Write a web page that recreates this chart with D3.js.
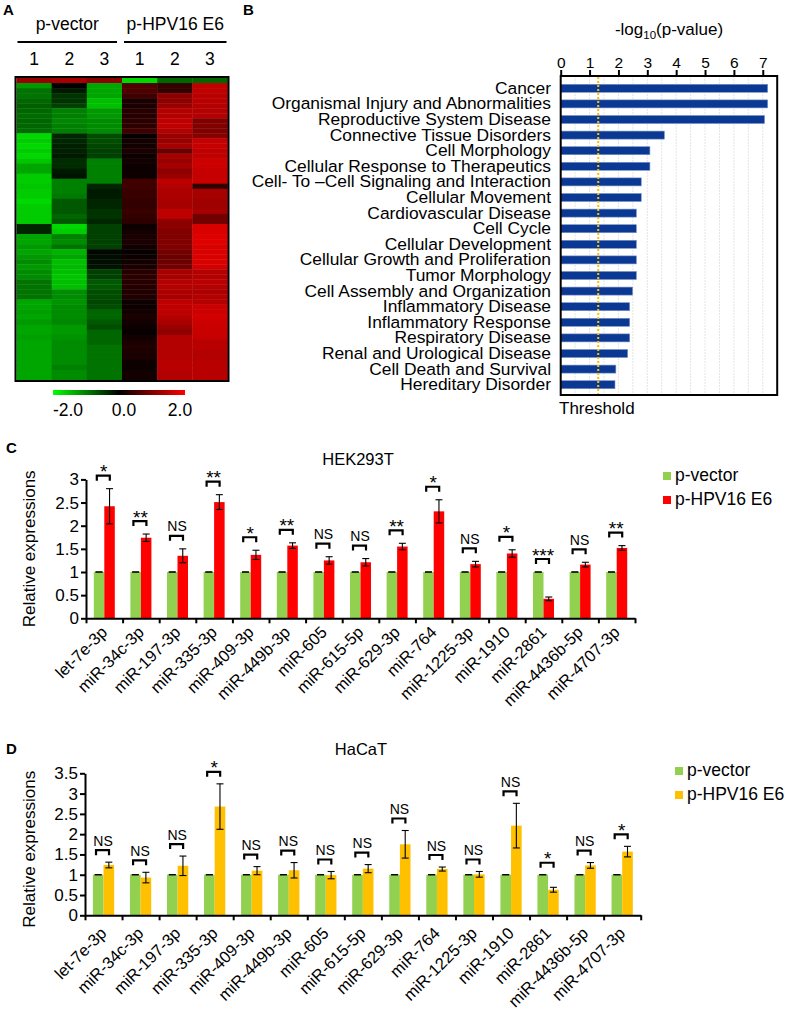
<!DOCTYPE html>
<html><head><meta charset="utf-8">
<script src="https://cdn.jsdelivr.net/npm/d3@7"></script>
<style>body{margin:0;background:#fff} svg{display:block} text{font-family:"Liberation Sans",Arial,sans-serif;fill:#000}</style>
</head><body><svg id="fig" width="787" height="1018"></svg>
<script>
// ---------------- DATA ----------------
// Panel A heatmap (rows top->bottom)
const heatGroups = ["p-vector", "p-HPV16 E6"];
const heatColLabels = ["1", "2", "3", "1", "2", "3"];
const heatVector1 = [1.2,-1.2,-0.9,-0.9,-0.8,-0.75,-0.8,-0.85,-0.8,-0.8,-0.85,-1.7,-1.6,-1.7,-1.6,-1.7,-1.55,-1.3,-1.3,-1.6,-1.6,-1.55,-1.6,-1.6,-1.7,-1.6,-1.6,-1.6,-1.6,-0.3,-0.3,-1.3,-1.3,-1.2,-1.3,-1.2,-1.1,-1.2,-1.1,-1.1,-0.9,-0.9,-0.9,-0.9,-1.3,-1.3,-1.25,-1.3,-1.2,-1.3,-1.3,-1.25,-1.3,-1.3,-1.3,-1.3,-1.3,-1.3,-1.3,-1.3];
const heatVector2 = [1.3,0.0,-0.2,-0.4,-0.4,-0.5,-1.0,-1.0,-1.05,-1.0,-1.0,-0.3,-0.3,-0.25,-0.25,-0.2,-0.35,-0.35,-0.2,-0.15,-1.0,-1.0,-1.0,-0.95,-0.7,-0.7,-0.7,-0.8,-0.7,-1.7,-1.6,-1.0,-1.1,-0.9,-1.4,-1.3,-1.5,-1.45,-1.5,-1.55,-1.5,-1.5,-1.1,-1.1,-1.15,-1.1,-1.1,-1.1,-1.05,-1.2,-1.2,-1.15,-1.1,-1.1,-1.1,-1.1,-1.1,-1.0,-1.1,-1.1];
const heatVector3 = [1.1,-1.3,-1.3,-1.3,-1.5,-1.5,-1.2,-1.2,-1.1,-1.1,-1.1,-0.6,-0.6,-0.55,-0.5,-0.5,-1.0,-1.0,-1.0,-1.0,-1.0,-0.3,-0.2,-0.2,-0.3,-0.3,-0.4,-0.4,-0.3,-0.5,-0.5,-0.5,-0.5,-0.5,-0.05,-0.1,-0.1,-0.15,-0.5,-0.5,-0.7,-0.7,-0.6,-0.6,-0.55,-0.6,-0.8,-0.8,-0.7,-0.6,-0.8,-0.8,-0.8,-0.9,-0.9,-0.9,-0.9,-0.9,-0.9,-0.9];
const heatE6_1 = [-1.7,0.6,0.6,0.5,0.2,0.2,0.3,0.3,0.35,0.35,0.5,0.05,0.15,0.15,0.2,0.1,0.15,0.1,0.1,0.1,0.5,0.5,0.45,0.45,0.4,0.4,0.45,0.4,0.35,0.1,0.15,0.2,0.2,0.15,0.05,0.1,0.15,0.2,0.3,0.35,0.3,0.3,0.25,0.25,0.1,0.1,0.15,0.2,0.15,0.1,0.05,0.15,0.2,0.25,0.2,0.2,0.1,0.1,0.15,0.15];
const heatE6_2 = [-0.8,0.4,0.4,1.1,1.1,1.2,1.4,1.4,1.5,1.5,1.4,1.2,1.2,1.3,0.8,1.3,1.2,1.3,1.1,1.2,1.5,1.4,1.35,1.35,1.3,1.3,1.5,1.5,1.1,1.1,1.0,1.0,1.0,1.0,0.9,0.85,0.85,0.9,1.3,1.3,1.4,1.4,1.35,1.3,1.5,1.5,1.5,1.4,1.35,1.2,1.1,1.4,1.4,1.4,1.4,1.4,1.45,1.45,1.4,1.4];
const heatE6_3 = [-0.8,1.5,1.5,1.45,1.45,1.4,1.4,1.4,1.0,1.0,1.0,1.05,1.55,1.55,1.5,1.5,1.6,1.6,1.55,1.55,1.58,0.4,1.3,1.3,1.25,1.25,1.3,0.9,0.9,1.7,1.7,1.75,1.75,1.7,1.7,1.7,1.7,1.65,1.4,1.4,1.45,1.4,1.35,1.4,1.4,1.6,1.6,1.65,1.6,1.58,1.58,1.55,1.45,1.45,1.4,1.4,1.45,1.45,1.45,1.45];
const heatLegendTicks = [-2, 0, 2];

// Panel B IPA
const ipaCategories = ["Cancer","Organismal Injury and Abnormalities","Reproductive System Disease","Connective Tissue Disorders","Cell Morphology","Cellular Response to Therapeutics","Cell- To \u2013Cell Signaling and Interaction","Cellular Movement","Cardiovascular Disease","Cell Cycle","Cellular Development","Cellular Growth and Proliferation","Tumor Morphology","Cell Assembly and Organization","Inflammatory Disease","Inflammatory Response","Respiratory Disease","Renal and Urological Disease","Cell Death and Survival","Hereditary Disorder"];
const ipaValues = [7.17,7.17,7.06,3.59,3.09,3.09,2.79,2.79,2.62,2.62,2.62,2.62,2.62,2.49,2.39,2.39,2.39,2.32,1.91,1.88];
const ipaTicks = [0,1,2,3,4,5,6,7];
const ipaThreshold = 1.3;

// Panels C, D
const mirnas = ["let-7e-3p","miR-34c-3p","miR-197-3p","miR-335-3p","miR-409-3p","miR-449b-3p","miR-605","miR-615-5p","miR-629-3p","miR-764","miR-1225-3p","miR-1910","miR-2861","miR-4436b-5p","miR-4707-3p"];
const seriesNames = ["p-vector", "p-HPV16 E6"];
const hekVector = [1,1,1,1,1,1,1,1,1,1,1,1,1,1,1];
const hekVectorErr = [0,0,0,0,0,0,0,0,0,0,0,0,0,0,0];
const hekE6 = [2.42,1.74,1.35,2.51,1.37,1.57,1.25,1.21,1.55,2.31,1.17,1.40,0.42,1.16,1.52];
const hekE6Err = [0.38,0.08,0.15,0.16,0.10,0.06,0.08,0.08,0.07,0.25,0.06,0.08,0.04,0.05,0.05];
const hekSig = ["*","**","NS","**","*","**","NS","NS","**","*","NS","*","***","NS","**"];
const hekTicks = [0,0.5,1,1.5,2,2.5,3];
const hacatVector = [1,1,1,1,1,1,1,1,1,1,1,1,1,1,1];
const hacatVectorErr = [0,0,0,0,0,0,0,0,0,0,0,0,0,0,0];
const hacatE6 = [1.24,0.93,1.22,2.68,1.10,1.11,0.99,1.15,1.75,1.14,1.01,2.21,0.63,1.23,1.57];
const hacatE6Err = [0.07,0.13,0.24,0.56,0.10,0.19,0.09,0.10,0.34,0.05,0.07,0.55,0.06,0.07,0.13];
const hacatSig = ["NS","NS","NS","*","NS","NS","NS","NS","NS","NS","NS","NS","*","NS","*"];
const hacatTicks = [0,0.5,1,1.5,2,2.5,3,3.5];

// ---------------- DRAW ----------------
const svg = d3.select("#fig");

function panelLetter(t, x, y) {
  svg.append("text").attr("x", x).attr("y", y).attr("font-size", 15).attr("font-weight", "bold").text(t);
}
panelLetter("A", 3, 15);
panelLetter("B", 243, 15);
panelLetter("C", 6, 453);
panelLetter("D", 6, 754);

// ---- Panel A ----
const heatCols = [heatVector1, heatVector2, heatVector3, heatE6_1, heatE6_2, heatE6_3];
const hx = d3.scaleBand().domain(d3.range(6)).range([16.5, 227.5]);
const hy = d3.scaleBand().domain(d3.range(heatVector1.length)).range([78, 380]);
const heatColor = d3.scaleLinear().domain([-2, 0, 2]).range(["#00ff00", "#000000", "#ff0000"]);
const gA = svg.append("g");
heatCols.forEach((col, ci) => {
  gA.append("g").selectAll("rect").data(col).join("rect")
    .attr("x", hx(ci)).attr("y", (d, i) => hy(i))
    .attr("width", hx.bandwidth() + 0.4).attr("height", hy.bandwidth() + 0.4)
    .attr("fill", d => heatColor(d));
});
gA.append("rect").attr("x", 15.5).attr("y", 77).attr("width", 213).attr("height", 304)
  .attr("fill", "none").attr("stroke", "#000").attr("stroke-width", 2);
heatGroups.forEach((g, gi) => {
  const a = hx(gi * 3), b = hx(gi * 3 + 2) + hx.bandwidth();
  const x1 = gi === 0 ? a + 1 : a + 2, x2 = gi === 0 ? b - 5 : b - 1;
  gA.append("line").attr("x1", x1).attr("x2", x2).attr("y1", 42).attr("y2", 42)
    .attr("stroke", "#000").attr("stroke-width", 2);
  gA.append("text").attr("x", (x1 + x2) / 2).attr("y", 30).attr("text-anchor", "middle")
    .attr("font-size", 17.5).text(g);
});
gA.selectAll(".cl").data(heatColLabels).join("text")
  .attr("x", (d, i) => hx(i) + hx.bandwidth() / 2).attr("y", 65)
  .attr("text-anchor", "middle").attr("font-size", 17.5).text(d => d);
const defs = svg.append("defs");
const grad = defs.append("linearGradient").attr("id", "hg");
grad.selectAll("stop").data([0, 0.5, 1]).join("stop")
  .attr("offset", d => d * 100 + "%")
  .attr("stop-color", d => heatColor(-2 + 4 * d));
gA.append("rect").attr("x", 53).attr("y", 390).attr("width", 132).attr("height", 5).attr("fill", "url(#hg)");
const hlx = d3.scaleLinear().domain([-2, 2]).range([68, 180]);
gA.selectAll(".lt").data(heatLegendTicks).join("text")
  .attr("x", d => hlx(d)).attr("y", 416).attr("text-anchor", "middle").attr("font-size", 17.5)
  .text(d => d3.format(".1f")(d).replace("\u2212", "-"));

// ---- Panel B ----
const bx = d3.scaleLinear().domain([0, 7.5]).range([560.7, 777.2]);
const by = d3.scaleBand().domain(ipaCategories).range([80.5, 392.5]);
const gB = svg.append("g");
gB.selectAll(".grid").data(d3.range(1, 15).map(i => i * 0.5)).join("line")
  .attr("x1", d => bx(d)).attr("x2", d => bx(d)).attr("y1", 76).attr("y2", 395)
  .attr("stroke", "#e4e4e4").attr("stroke-width", 1).attr("stroke-dasharray", "2,1");
gB.selectAll(".bar").data(ipaCategories).join("rect")
  .attr("x", bx(0)).attr("y", d => by(d) + by.bandwidth() / 2 - 4)
  .attr("width", (d, i) => bx(ipaValues[i]) - bx(0)).attr("height", 8)
  .attr("fill", "#0b3893").attr("stroke", "#7391c9").attr("stroke-width", 0.6);
gB.append("line").attr("x1", bx(ipaThreshold)).attr("x2", bx(ipaThreshold)).attr("y1", 77).attr("y2", 394)
  .attr("stroke", "#ffc000").attr("stroke-width", 2).attr("stroke-dasharray", "2,2");
gB.append("rect").attr("x", bx(0)).attr("y", 76).attr("width", bx(7.5) - bx(0)).attr("height", 319)
  .attr("fill", "none").attr("stroke", "#000").attr("stroke-width", 2);
const axB = gB.append("g").attr("transform", "translate(0,76)")
  .call(d3.axisTop(bx).tickValues(ipaTicks).tickSize(6).tickSizeOuter(0).tickPadding(2).tickFormat(d3.format("d")));
axB.select(".domain").remove();
axB.selectAll("line").attr("stroke-width", 2);
axB.selectAll("text").attr("font-size", 15.5).attr("font-family", '"Liberation Sans",Arial,sans-serif');
const tt = gB.append("text").attr("x", 669).attr("y", 35).attr("text-anchor", "middle").attr("font-size", 17);
tt.append("tspan").text("-log");
tt.append("tspan").attr("font-size", 11.5).attr("dy", 4).text("10");
tt.append("tspan").attr("dy", -4).text("(p-value)");
gB.selectAll(".lab").data(ipaCategories).join("text")
  .attr("x", 551).attr("y", d => by(d) + by.bandwidth() / 2 + 5.5)
  .attr("text-anchor", "end").attr("font-size", 17.4).text(d => d);
gB.append("text").attr("x", 559).attr("y", 414).attr("font-size", 17).text("Threshold");

// ---- Panels C & D ----
function barPanel(o) {
  const g = svg.append("g");
  const x = d3.scaleBand().domain(mirnas).range([o.x0, o.x1]);
  const xi = d3.scaleLinear().domain([0, mirnas.length]).range([o.x0, o.x1]);
  const y = d3.scaleLinear().domain([0, o.ymax]).range([o.y0, o.y1]);
  const bw = x.bandwidth() * 0.287;
  const rows = mirnas.map((m, i) => ({ m, c: x(m) + x.bandwidth() / 2, v: o.vec[i], ve: o.vecErr[i], e: o.e6[i], ee: o.e6Err[i], s: o.sig[i] }));
  g.append("g").selectAll("rect").data(rows).join("rect")
    .attr("x", d => d.c - bw).attr("y", d => y(d.v)).attr("width", bw).attr("height", d => y(0) - y(d.v))
    .attr("fill", "#92d050");
  g.append("g").selectAll("rect").data(rows).join("rect")
    .attr("x", d => d.c).attr("y", d => y(d.e)).attr("width", bw).attr("height", d => y(0) - y(d.e))
    .attr("fill", o.color);
  const err = [];
  rows.forEach(d => {
    err.push({ cx: d.c - bw / 2, v: d.v, e: d.ve });
    err.push({ cx: d.c + bw / 2, v: d.e, e: d.ee });
  });
  const eg = g.append("g").attr("stroke", "#000").attr("stroke-width", 1.1);
  eg.selectAll(".ev").data(err).join("line")
    .attr("x1", d => d.cx).attr("x2", d => d.cx).attr("y1", d => y(d.v - d.e)).attr("y2", d => y(d.v + d.e));
  eg.selectAll(".et").data(err).join("line")
    .attr("x1", d => d.cx - 3.5).attr("x2", d => d.cx + 3.5).attr("y1", d => y(d.v + d.e)).attr("y2", d => y(d.v + d.e));
  eg.selectAll(".eb").data(err).join("line")
    .attr("x1", d => d.cx - 3.5).attr("x2", d => d.cx + 3.5).attr("y1", d => y(d.v - d.e)).attr("y2", d => y(d.v - d.e));
  // significance
  rows.forEach(d => {
    const top = Math.min(y(d.v + d.ve), y(d.e + d.ee));
    const bt = top - o.gap;
    g.append("path").attr("d", `M${d.c - 7.5},${bt + 5}V${bt}H${d.c + 5.5}V${bt + 5}`)
      .attr("fill", "none").attr("stroke", "#000").attr("stroke-width", 2.2);
    const isNS = d.s === "NS";
    g.append("text").attr("x", d.c - 0.5).attr("y", isNS ? bt - 4.5 : bt + 2.5)
      .attr("text-anchor", "middle").attr("font-size", isNS ? 14 : 19).text(d.s);
  });
  // axes
  const ay = g.append("g").attr("transform", `translate(${o.x0},0)`)
    .call(d3.axisLeft(y).tickValues(o.ticks).tickSize(5).tickSizeOuter(0).tickPadding(2).tickFormat(d3.format("")));
  ay.selectAll("line").attr("stroke-width", 2);
  ay.select(".domain").attr("stroke-width", 2);
  ay.selectAll("text").attr("font-size", 17).attr("font-family", '"Liberation Sans",Arial,sans-serif');
  const ax = g.append("g").attr("transform", `translate(0,${o.y0})`)
    .call(d3.axisBottom(xi).tickValues(d3.range(mirnas.length + 1)).tickSize(5).tickSizeOuter(0).tickFormat(""));
  ax.selectAll("line").attr("stroke-width", 2);
  ax.select(".domain").attr("stroke-width", 2);
  g.append("g").selectAll("text").data(rows).join("text")
    .attr("transform", d => `translate(${d.c + 4},${o.y0 + o.labOff}) rotate(-45)`)
    .attr("text-anchor", "end").attr("font-size", 16.5).text(d => d.m);
  g.append("text").attr("transform", `translate(35,${(o.y0 + o.y1) / 2 + o.ylabShift}) rotate(-90)`)
    .attr("text-anchor", "middle").attr("font-size", 17).text("Relative expressions");
  g.append("text").attr("x", o.titleX).attr("y", o.titleY).attr("text-anchor", "middle").attr("font-size", 16.5).text(o.title);
  // legend
  const lc = ["#92d050", o.color];
  seriesNames.forEach((s, i) => {
    g.append("rect").attr("x", o.lx).attr("y", o.ly + i * 24).attr("width", 8).attr("height", 8).attr("fill", lc[i]);
    g.append("text").attr("x", o.lx + 12).attr("y", o.ly + i * 24 + 8.5).attr("font-size", 17.5).text(s);
  });
}

barPanel({ x0: 86, x1: 635, y0: 618.3, y1: 479.4, ymax: 3, ticks: hekTicks,
  vec: hekVector, vecErr: hekVectorErr, e6: hekE6, e6Err: hekE6Err, sig: hekSig,
  color: "#ff0000", gap: 13, labOff: 15, ylabShift: 0, title: "HEK293T", titleX: 358, titleY: 465,
  lx: 663, ly: 472 });
barPanel({ x0: 85, x1: 640.7, y0: 915.3, y1: 773.3, ymax: 3.5, ticks: hacatTicks,
  vec: hacatVector, vecErr: hacatVectorErr, e6: hacatE6, e6Err: hacatE6Err, sig: hacatSig,
  color: "#ffc000", gap: 12, labOff: 19, ylabShift: 5, title: "HaCaT", titleX: 361, titleY: 755,
  lx: 675, ly: 767 });
</script></body></html>
